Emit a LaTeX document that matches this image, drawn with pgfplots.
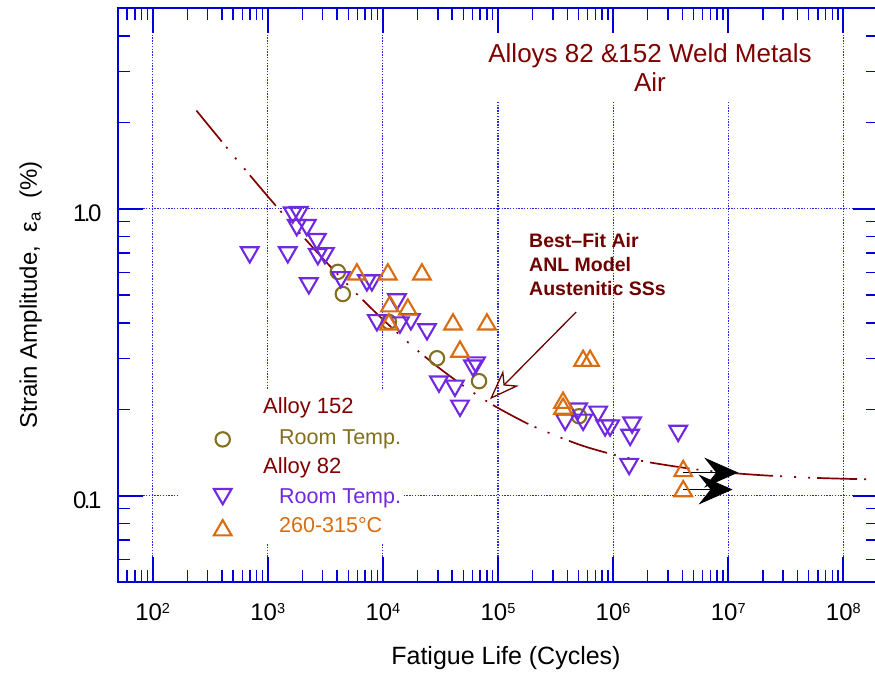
\documentclass[border=0pt]{standalone}
\usepackage{pgfplots}
\pgfplotsset{compat=1.18}
\usepackage{fontspec}
\setmainfont{Liberation Sans}
\usetikzlibrary{arrows.meta}

\definecolor{axisblue}{RGB}{0,0,220}
\definecolor{gridblue}{RGB}{40,40,230}
\definecolor{darkred}{RGB}{128,0,0}
\definecolor{annored}{RGB}{110,0,0}
\definecolor{olive152}{RGB}{130,112,30}
\definecolor{violet82}{RGB}{112,40,224}
\definecolor{orange82}{RGB}{218,108,16}

\newcommand{\fs}[1]{\fontsize{#1}{#1}\selectfont}
\newcommand{\dec}[1]{10\raisebox{6.7bp}{\fs{14.5bp}#1}}

% hollow triangles centred on their bounding box
\pgfdeclareplotmark{triup}{%
  \pgfpathmoveto{\pgfqpoint{0pt}{0.75\pgfplotmarksize}}%
  \pgfpathlineto{\pgfqpoint{-0.866\pgfplotmarksize}{-0.75\pgfplotmarksize}}%
  \pgfpathlineto{\pgfqpoint{0.866\pgfplotmarksize}{-0.75\pgfplotmarksize}}%
  \pgfpathclose\pgfusepathqstroke}
\pgfdeclareplotmark{tridown}{%
  \pgfpathmoveto{\pgfqpoint{0pt}{-0.75\pgfplotmarksize}}%
  \pgfpathlineto{\pgfqpoint{-0.866\pgfplotmarksize}{0.75\pgfplotmarksize}}%
  \pgfpathlineto{\pgfqpoint{0.866\pgfplotmarksize}{0.75\pgfplotmarksize}}%
  \pgfpathclose\pgfusepathqstroke}

% Alloy 152, room temperature
\pgfplotstableread{
N       ea
4064    0.602
4487    0.504
11280   0.403
29510   0.301
68400   0.2505
506000  0.189
}\alloyRT

% Alloy 82, room temperature
\pgfplotstableread{
N        ea
697      0.690
1493     0.690
2274     0.538
1649     0.949
1862     0.953
1786     0.858
2183     0.858
2667     0.767
2721     0.680
3133     0.685
4315     0.565
7262     0.551
8020     0.551
8868     0.400
13250    0.473
14060    0.393
17500    0.403
24150    0.372
60640    0.278
64400    0.285
30690    0.2445
42270    0.2366
46770    0.2015
383000   0.180
496600   0.197
548600   0.180
741000   0.192
851800   0.172
941000   0.172
1462000  0.176
1405000  0.1595
3675000  0.1647
1377000  0.1263
}\alloyEightyTwoRT

% Alloy 82, 260-315 C
\pgfplotstableread{
N        ea
5943     0.602
11040    0.602
21830    0.602
11510    0.466
16480    0.454
11280    0.403
40640    0.403
80170    0.403
46770    0.324
548600   0.301
630900   0.301
367300   0.215
367300   0.205
4064000  0.1243
4064000  0.1058
}\alloyEightyTwoHT

\begin{document}
\begin{tikzpicture}
\useasboundingbox (0,0) rectangle (875bp,681bp);
\begin{axis}[
  at={(118bp,99bp)}, anchor=south west,
  scale only axis, width=760bp, height=574bp,
  xmode=log, ymode=log,
  xmin=50, xmax=2e8, ymin=0.05, ymax=5,
  xtick={1e2,1e3,1e4,1e5,1e6,1e7,1e8},
  xticklabels={\dec{2},\dec{3},\dec{4},\dec{5},\dec{6},\dec{7},\dec{8}},
  ytick={0.1,1},
  yticklabels={0\kern-2.5bp.\kern-2.5bp1,1\kern-2.5bp.\kern-2.5bp0},
  minor xtick={60,70,80,90,200,300,400,500,600,700,800,900,
    2000,3000,4000,5000,6000,7000,8000,9000,
    2e4,3e4,4e4,5e4,6e4,7e4,8e4,9e4,
    2e5,3e5,4e5,5e5,6e5,7e5,8e5,9e5,
    2e6,3e6,4e6,5e6,6e6,7e6,8e6,9e6,
    2e7,3e7,4e7,5e7,6e7,7e7,8e7,9e7},
  minor ytick={0.06,0.07,0.08,0.09,0.2,0.3,0.4,0.5,0.6,0.7,0.8,0.9,2,3,4},
  tick align=inside,
  major tick length=25bp, minor tick length=12bp,
  every major tick/.append style={draw=axisblue, line width=1.8bp},
  every minor tick/.append style={draw=axisblue, line width=1.4bp},
  axis line style={draw=axisblue, line width=2.6bp},
  grid=major,
  major grid style={draw=gridblue, line width=1.2bp, dash pattern=on 1.4bp off 1.4bp},
  xticklabel style={font=\fs{24bp}, anchor=base, yshift=-38bp},
  yticklabel style={font=\fs{24bp}, anchor=base east, xshift=-13bp, yshift=-13bp},
  xlabel={Fatigue Life (Cycles)},
  xlabel style={font=\fs{25bp}, at={(axis description cs:0.5105,-0.143)}, anchor=base},
  ylabel={Strain Amplitude,\ \ ε\textsubscript{a}\ \ (\%)},
  ylabel style={font=\fs{24bp}, at={(axis description cs:-0.115,0.5)}, anchor=center},
]
% white backing behind the title and the key
\fill[white] (rel axis cs:0.4829,0.8362) rectangle (rel axis cs:0.9171,0.9547);
\fill[white] (rel axis cs:0.0789,0.0679) rectangle (rel axis cs:0.375,0.3345);

% best-fit air curve, ANL model for austenitic stainless steels
\addplot[darkred, line width=1.7bp, smooth,
  dash pattern=on 40bp off 7bp on 2bp off 12bp on 2bp off 12bp on 2bp off 7bp]
  coordinates {
  (240,2.196) (300,1.968) (500,1.534) (700,1.306) (1000,1.103)
  (1500,0.9145) (2000,0.803) (3000,0.671) (5000,0.5405) (7000,0.4718)
  (1e4,0.4108) (1.5e4,0.3539) (2e4,0.3203) (3e4,0.2806) (5e4,0.2412)
  (7e4,0.2205) (1e5,0.2020) (2e5,0.1748) (5e5,0.1509) (1e6,0.1391)
  (2e6,0.1309) (5e6,0.1237) (1e7,0.1202) (2e7,0.1177) (5e7,0.1155)
  (1e8,0.1145) (2e8,0.1137)};

\addplot[only marks, mark=o, mark size=7.2bp, olive152,
  mark options={line width=2.1bp}] table[x=N, y=ea] {\alloyRT};
\addplot[only marks, mark=tridown, mark size=10.2bp, violet82,
  mark options={line width=2.1bp}] table[x=N, y=ea] {\alloyEightyTwoRT};
\addplot[only marks, mark=triup, mark size=10.2bp, orange82,
  mark options={line width=2.1bp}] table[x=N, y=ea] {\alloyEightyTwoHT};

% run-outs
\draw[black, line width=0.8bp, -{Stealth[length=34bp, width=30bp, inset=12bp]}]
  (axis cs:4.06e6,0.1203) -- (axis cs:1.22e7,0.1203);
\draw[black, line width=0.8bp, -{Stealth[length=34bp, width=30bp, inset=12bp]}]
  (axis cs:4.06e6,0.105) -- (axis cs:1.09e7,0.105);

% pointer to the best-fit curve
\draw[annored, line width=1.3bp, -{Stealth[open, length=30bp, width=22bp, inset=9bp]}]
  (axis cs:4.77e5,0.436) -- (axis cs:8.51e4,0.2166);

% title
\node[anchor=base, text=darkred, font=\fs{26bp}] at (rel axis cs:0.7,0.9059)
  {Alloys 82 \&152 Weld Metals};
\node[anchor=base, text=darkred, font=\fs{26bp}] at (rel axis cs:0.7,0.8537) {Air};

% curve annotation
\node[anchor=base west, inner sep=0pt, text=annored, font=\bfseries\fs{19.5bp}]
  at (rel axis cs:0.5408,0.5836) {Best–Fit Air};
\node[anchor=base west, inner sep=0pt, text=annored, font=\bfseries\fs{19.5bp}]
  at (rel axis cs:0.5408,0.5401) {ANL Model};
\node[anchor=base west, inner sep=0pt, text=annored, font=\bfseries\fs{19.5bp}]
  at (rel axis cs:0.5408,0.4983) {Austenitic SSs};

% key
\addplot[only marks, mark=o, mark size=7.2bp, olive152,
  mark options={line width=2.1bp}] coordinates {(406,0.157)};
\addplot[only marks, mark=tridown, mark size=10.2bp, violet82,
  mark options={line width=2.1bp}] coordinates {(406,0.0992)};
\addplot[only marks, mark=triup, mark size=10.2bp, orange82,
  mark options={line width=2.1bp}] coordinates {(406,0.0773)};
\node[anchor=base west, inner sep=0pt, text=darkred, font=\fs{22bp}]
  at (rel axis cs:0.1908,0.2944) {Alloy 152};
\node[anchor=base west, inner sep=0pt, text=olive152, font=\fs{21.5bp}]
  at (rel axis cs:0.2118,0.2404) {Room Temp.};
\node[anchor=base west, inner sep=0pt, text=darkred, font=\fs{22bp}]
  at (rel axis cs:0.1908,0.1899) {Alloy 82};
\node[anchor=base west, inner sep=0pt, text=violet82, font=\fs{21.5bp}]
  at (rel axis cs:0.2118,0.1376) {Room Temp.};
\node[anchor=base west, inner sep=0pt, text=orange82, font=\fs{21.5bp}]
  at (rel axis cs:0.2118,0.0854) {260-315°C};
\end{axis}
\end{tikzpicture}
\end{document}
